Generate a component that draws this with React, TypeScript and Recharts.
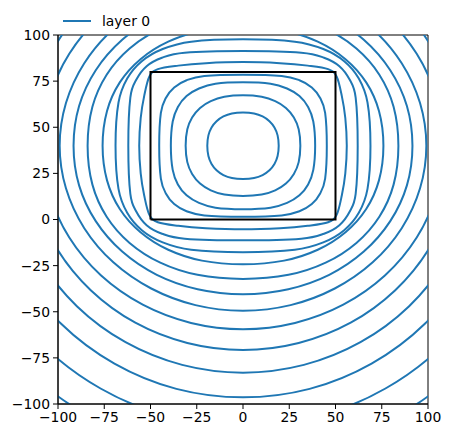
import React from "react";
import { LineChart, Line, XAxis, YAxis, ReferenceArea } from "recharts";

// axis ticks
const xTicks = [-100, -75, -50, -25, 0, 25, 50, 75, 100];
const yTicks = [-100, -75, -50, -25, 0, 25, 50, 75, 100];

// the black polygon
const rectX = [-50, 50, 50, -50, -50];
const rectY = [0, 0, 80, 80, 0];

// contour centre, every level is symmetric around it
const centreX = 0;
const centreY = 40;

// one quarter of each contour level, as offsets from the centre (right -> top)
const c1 = [[19.3, 0], [18.7, 5.6], [17.0, 9.9], [14.3, 13.3], [10.6, 15.9], [6.0, 17.5], [0, 18]];
const c2 = [[31, 0], [30.1, 8.9], [27.5, 15.3], [23.2, 20.5], [17.4, 24.2], [10.1, 26.5], [0, 27.3]];
const c3 = [[39, 0], [38.0, 13.1], [35.2, 21.0], [30.5, 26.9], [23.8, 31.0], [14.9, 33.6], [0, 34.4]];
const c4 = [[45.3, 0], [44.4, 17.8], [41.7, 25.9], [37.2, 31.6], [30.5, 35.5], [20.9, 37.8], [0, 38.5]];
const c5 = [[56.1, 0], [55.3, 15], [53.4, 27], [50.6, 37.5], [46, 41.5], [35, 43.4], [20, 44.7], [0, 45.3]];
const c6 = [[62, 0], [60.9, 26.1], [57.7, 35.7], [52.1, 43.1], [43.8, 47.7], [31.5, 50.4], [0, 51.3]];
const c7 = [[68.9, 0], [67.3, 23.4], [62.6, 36.4], [54.7, 45.8], [43.4, 52.4], [28.0, 56.4], [0, 57.7]];
const c8 = [[75.9, 0], [73.5, 18.8], [66.6, 34.3], [55.4, 46.9], [40.4, 56.4], [22.2, 62.3], [0, 64.3]];
const c9 = [[84, 0], [81.4, 21.1], [73.7, 38.5], [61.3, 52.7], [44.7, 63.4], [24.6, 70.0], [0, 72.2]];
const c10 = [[91.6, 0], [88.6, 21.5], [79.6, 40.9], [65.3, 57.4], [46.6, 70.0], [24.5, 77.8], [0, 80.5]];
const c11 = [[99.1, 0], [95.7, 23.1], [85.8, 44.7], [70.1, 63.2], [49.6, 77.4], [25.7, 86.4], [0, 89.4]];
const c12 = [[108.4, 0], [104.7, 25.8], [93.9, 49.8], [76.7, 70.4], [54.2, 86.2], [28.1, 96.1], [0, 99.5]];
const c13 = [[116.4, 0], [112.4, 28.7], [100.8, 55.4], [82.3, 78.3], [58.2, 95.9], [30.1, 106.9], [0, 110.7]];
const c14 = [[127, 0], [122.7, 31.8], [110.0, 61.5], [89.8, 87.0], [63.5, 106.5], [32.9, 118.8], [0, 123]];
const c15 = [[139, 0], [134.3, 35.3], [120.4, 68.2], [98.3, 96.5], [69.5, 118.1], [36.0, 131.8], [0, 136.4]];
const c16 = [[154, 0], [148.8, 39.3], [133.4, 76.0], [108.9, 107.5], [77.0, 131.6], [39.9, 146.8], [0, 152]];
const c17 = [[170, 0], [164.2, 43.5], [147.2, 84.0], [120.2, 118.8], [85.0, 145.5], [44.0, 162.3], [0, 168]];

const levels = [c1, c2, c3, c4, c5, c6, c7, c8, c9, c10, c11, c12, c13, c14, c15, c16, c17];

// mirror a quarter into a full closed ring
const ring = (q: number[][]) => {
  const pts: { x: number; y: number }[] = [];
  const add = (dx: number, dy: number) => pts.push({ x: centreX + dx, y: centreY + dy });
  q.forEach(([dx, dy]) => add(dx, dy));
  q.slice(0, -1).reverse().forEach(([dx, dy]) => add(-dx, dy));
  q.slice(1).forEach(([dx, dy]) => add(-dx, -dy));
  q.slice(1, -1).reverse().forEach(([dx, dy]) => add(dx, -dy));
  return pts;
};

const rectData = rectX.map((x, i) => ({ x, y: rectY[i] }));

// closed catmull-rom so the rings have no seam
const closedCurve = (context: any) => {
  let pts: number[][] = [];
  return {
    areaStart() {},
    areaEnd() {},
    lineStart() {
      pts = [];
    },
    point(x: number, y: number) {
      pts.push([+x, +y]);
    },
    lineEnd() {
      const n = pts.length;
      if (!n) return;
      context.moveTo(pts[0][0], pts[0][1]);
      for (let i = 0; i < n; i++) {
        const p0 = pts[(i - 1 + n) % n];
        const p1 = pts[i];
        const p2 = pts[(i + 1) % n];
        const p3 = pts[(i + 2) % n];
        context.bezierCurveTo(
          p1[0] + (p2[0] - p0[0]) / 6,
          p1[1] + (p2[1] - p0[1]) / 6,
          p2[0] - (p3[0] - p1[0]) / 6,
          p2[1] - (p3[1] - p1[1]) / 6,
          p2[0],
          p2[1]
        );
      }
      context.closePath();
    },
  };
};

const fmt = (v: number) => (v < 0 ? `\u2212${Math.abs(v)}` : `${v}`);
const font = "'DejaVu Sans', sans-serif";

export default function App() {
  return (
    <div style={{ position: "relative", width: 434, height: 422, fontFamily: font }}>
      <LineChart width={434} height={422} margin={{ top: 27, right: 14, bottom: 0, left: 10 }}>
        <XAxis
          dataKey="x"
          type="number"
          domain={[-100, 100]}
          ticks={xTicks}
          allowDataOverflow
          interval={0}
          height={26}
          tickSize={5}
          tickMargin={3}
          tickFormatter={fmt}
          stroke="#000"
          tick={{ fill: "#000", fontSize: 13.9, fontFamily: font }}
        />
        <YAxis
          type="number"
          domain={[-100, 100]}
          ticks={yTicks}
          allowDataOverflow
          interval={0}
          width={40}
          tickSize={5}
          tickMargin={3}
          tickFormatter={fmt}
          stroke="#000"
          tick={{ fill: "#000", fontSize: 13.9, fontFamily: font }}
        />
        <ReferenceArea
          x1={-100}
          x2={100}
          y1={-100}
          y2={100}
          fill="none"
          fillOpacity={0}
          stroke="#000"
          strokeWidth={1}
          ifOverflow="visible"
        />
        {levels.map((q, i) => (
          <Line
            key={`lvl-${i}`}
            data={ring(q)}
            dataKey="y"
            type={closedCurve as any}
            stroke="#1f77b4"
            strokeWidth={2}
            dot={false}
            activeDot={false}
            isAnimationActive={false}
          />
        ))}
        <Line
          data={rectData}
          dataKey="y"
          type="linear"
          stroke="#000"
          strokeWidth={2}
          dot={false}
          activeDot={false}
          isAnimationActive={false}
        />
      </LineChart>
      <div style={{ position: "absolute", left: 55, top: 5, display: "flex", alignItems: "center", fontSize: 13.9, color: "#000" }}>
        <svg width={28} height={16}>
          <line x1={0} y1={8} x2={28} y2={8} stroke="#1f77b4" strokeWidth={2} />
        </svg>
        <span style={{ marginLeft: 11, lineHeight: "16px" }}>layer 0</span>
      </div>
    </div>
  );
}
